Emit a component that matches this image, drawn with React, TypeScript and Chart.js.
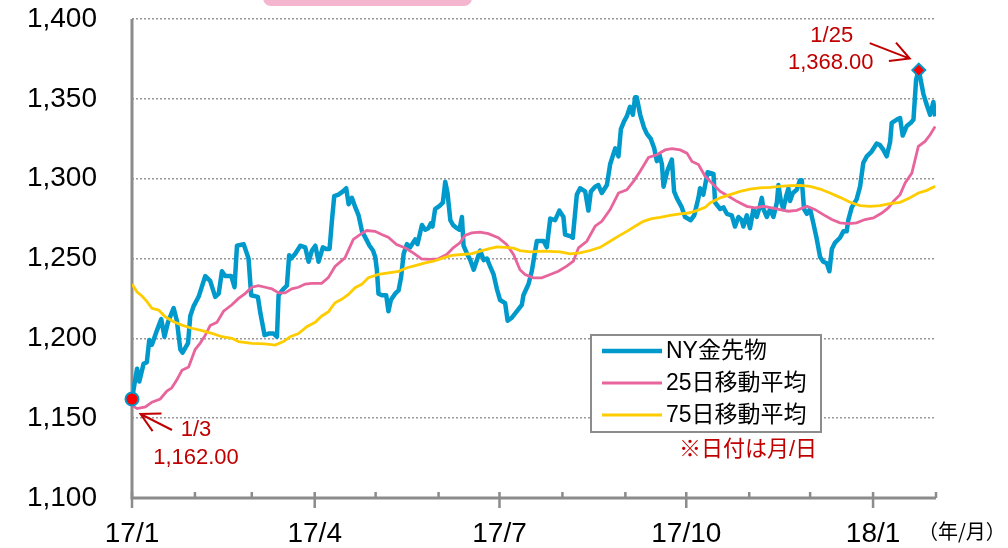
import { useEffect, useRef } from "react";
import { Chart, registerables } from "chart.js";
Chart.register(...registerables);

// x values are days counted from 2017-01-01 (day 0) to 2018-02-01 (day 396)
const X_MIN = 0;
const X_MAX = 396;
const MONTH_TICK_DAYS = [0, 31, 59, 90, 120, 151, 181, 212, 243, 273, 304, 334, 365, 396];
const MAJOR_TICK_DAYS = [0, 90, 181, 273, 365];
const MAJOR_TICK_LABELS = ["17/1", "17/4", "17/7", "17/10", "18/1"];
const Y_MIN = 1100;
const Y_MAX = 1400;
const Y_STEP = 50;

const goldDays = [
  0, 1.3, 2.5, 3.6, 5.7, 7.3, 8.5, 9.8, 12.3, 14.4, 16, 17.7, 20.5, 22.1, 23.8, 24.9, 27.6, 28.7, 30.3, 32.8,
  36.1, 38.5, 41, 42.7, 44.3, 45.9, 48.9, 50.5, 51.7, 55, 57.4, 58.7, 62, 63.2, 65.3, 67.3, 69.7, 71.4, 72.2, 74.6,
  76.3, 77.4, 78.4, 80.4, 82.9, 85.3, 87, 88.6, 90.3, 91.9, 94, 95.6, 97.3, 98.5, 99.6, 101.7, 103.9, 105.5, 106.7, 108.3,
  110, 111.6, 113.3, 115.4, 117, 118.7, 119.8, 120.6, 121.4, 123.1, 125.2, 126.3, 127.5, 129.6, 131.3, 132.5, 133.8, 135.4, 137, 139.5,
  140.6, 142.8, 144.4, 146, 147.2, 148, 149.3, 151.5, 153.1, 154.3, 155.4, 156.8, 158.1, 160, 161.3, 162.5, 163.3, 165, 166.6, 168.3,
  169.9, 171.5, 173.2, 174.8, 176.4, 178.1, 179.7, 181.3, 183.8, 185, 187.1, 189.6, 192, 192.8, 195.3, 196.9, 198.6, 199.4, 202.7, 204.3,
  206, 208.4, 210.5, 212.5, 213.3, 215.8, 217.1, 219.1, 220.7, 223.2, 224.8, 226, 228.1, 229.7, 231.4, 233.9, 235.5, 238, 239.6, 240.8,
  242.4, 243.7, 245.3, 246.7, 247.8, 248.6, 250.3, 252.2, 253.6, 255.5, 257.2, 258.5, 259.8, 261, 261.8, 263.7, 265.9, 267, 268.3, 270.8,
  272.4, 275.2, 276.9, 279, 279.8, 281.4, 283.5, 286.4, 287.2, 289.7, 291.3, 293, 295.4, 297, 298.7, 300.3, 301.1, 302.8, 304.4, 306.1,
  307.7, 309.3, 310.2, 311, 312.7, 314.3, 315.9, 317.6, 318.4, 319.6, 320.8, 322.2, 323.3, 324.1, 325.5, 327.4, 329, 329.9, 331, 332.4,
  334, 335.6, 337.3, 338.9, 340.5, 342.2, 343.5, 344.7, 346.3, 348.7, 350.4, 352, 352.8, 354.5, 356.9, 358.6, 360.2, 361.9, 364.3, 366.8,
  368.4, 370.1, 371.7, 373.4, 374.2, 376.7, 378.3, 379.6, 381.6, 383.6, 384.9, 386.2, 387.5, 388.6, 389.8, 391.5, 393.1, 394.7, 395.6,
];
const goldPrices = [
  1162, 1172, 1181, 1173, 1184, 1185, 1199, 1196, 1205, 1212, 1201, 1210, 1219, 1211, 1193, 1191, 1197, 1214, 1220, 1226,
  1239, 1236, 1226, 1228, 1242, 1239, 1239, 1232, 1258, 1259, 1250, 1227, 1226, 1216, 1202, 1203, 1203, 1201, 1227, 1231,
  1233, 1252, 1250, 1253, 1258, 1257, 1248, 1255, 1258, 1248, 1257, 1256, 1256, 1274, 1289, 1290, 1292, 1294, 1284, 1288,
  1282, 1277, 1267, 1262, 1258, 1255, 1251, 1243, 1228, 1227, 1227, 1217, 1224, 1228, 1230, 1238, 1253, 1259, 1257, 1262,
  1259, 1271, 1268, 1269, 1272, 1270, 1281, 1283, 1285, 1298, 1291, 1274, 1271, 1269, 1268, 1276, 1258, 1253, 1249, 1243,
  1249, 1255, 1249, 1250, 1245, 1240, 1231, 1224, 1222, 1211, 1213, 1217, 1221, 1227, 1234, 1242, 1255, 1261, 1261, 1257,
  1275, 1274, 1280, 1276, 1265, 1264, 1263, 1290, 1294, 1292, 1280, 1292, 1295, 1296, 1291, 1296, 1309, 1319, 1314, 1331,
  1336, 1339, 1345, 1340, 1351, 1351, 1340, 1332, 1328, 1325, 1319, 1311, 1315, 1309, 1295, 1305, 1312, 1292, 1288, 1282,
  1276, 1274, 1277, 1288, 1294, 1290, 1304, 1303, 1285, 1281, 1282, 1278, 1277, 1270, 1276, 1274, 1270, 1277, 1269, 1281,
  1276, 1283, 1288, 1281, 1276, 1281, 1276, 1285, 1296, 1286, 1281, 1289, 1294, 1286, 1291, 1293, 1299, 1299, 1281, 1278,
  1281, 1272, 1262, 1251, 1248, 1247, 1242, 1256, 1260, 1263, 1267, 1267, 1274, 1282, 1287, 1295, 1310, 1314, 1317, 1322,
  1321, 1318, 1314, 1323, 1335, 1337, 1338, 1327, 1333, 1335, 1337, 1362, 1368, 1361, 1353, 1346, 1340, 1348, 1339,
];

const ma25Days = [
  0, 2.5, 6.6, 9.8, 13.9, 17.2, 19.6, 22.1, 24.6, 27.9, 31.1, 33.6, 36.1, 38.5, 41.8, 45.1, 49.2, 52.5, 55.7, 59,
  62.3, 65.6, 68.9, 72.2, 75.4, 78.7, 82, 85.3, 88.5, 93.4, 96.7, 100, 104.9, 109, 112.3, 115.6, 119.7, 123, 126.2, 130.3,
  134.4, 138.5, 142.6, 146.7, 150.8, 155, 158.2, 161.5, 164, 167.3, 171.4, 175.5, 180.4, 184.5, 187.9, 191.1, 193.6, 197.7, 201.8, 206,
  210, 214.1, 217.4, 219.9, 224, 228.1, 231.4, 235.5, 239.6, 243.7, 247, 250.3, 254.4, 258.5, 262.6, 265.9, 270, 273.3, 275.8, 279,
  282.3, 285.6, 289.7, 293.8, 297.9, 302.8, 306.9, 311, 315.1, 319.2, 323.3, 327.4, 332.4, 336.5, 340.5, 344.7, 348.7, 352.8, 356.9, 361,
  365.2, 369.3, 372.5, 375, 378.3, 380.8, 384.1, 387.3, 390.6, 393.1, 395.6,
];
const ma25Values = [
  1158, 1156, 1157, 1160, 1162, 1167, 1169, 1174, 1180, 1182, 1193, 1197, 1202, 1208, 1210, 1217, 1221, 1225, 1228, 1232,
  1233, 1232, 1231, 1228.5, 1228.5, 1231, 1232, 1234, 1234.4, 1234.4, 1238, 1245, 1250.4, 1262, 1265, 1267.5, 1267, 1265, 1263.3, 1258.8,
  1256.7, 1253.5, 1249.8, 1249.4, 1249.8, 1252.5, 1256.7, 1259.8, 1264.4, 1266, 1266.5, 1265.6, 1263, 1258.8, 1252.5, 1243, 1240, 1237.9, 1237.9, 1240,
  1242, 1245.2, 1248.3, 1256.7, 1260.8, 1270.2, 1273.3, 1280.6, 1291, 1293, 1298.3, 1304.6, 1313.3, 1315, 1318, 1318.8, 1318, 1316, 1310.8, 1308.8,
  1301.5, 1297.3, 1292, 1289, 1285.8, 1282.7, 1281.7, 1282.7, 1281.7, 1280.6, 1279.6, 1280.2, 1282.7, 1280.6, 1277.5, 1274.4, 1272.3, 1271.9, 1272.3, 1274.4,
  1275.4, 1278.5, 1281.7, 1285.8, 1290, 1297.3, 1303.5, 1320.2, 1323.3, 1327.5, 1332.7,
];

const ma75Days = [
  0, 2.5, 4.9, 7.4, 9.8, 13.1, 16.4, 20.5, 24.6, 29.5, 34.5, 39.4, 44.3, 49.2, 52.5, 59, 65.6, 70.5, 74.6, 77.9,
  82, 86.1, 90.2, 93.5, 96.8, 100, 103.3, 106.6, 109.9, 113.1, 116.4, 121.4, 126.3, 131.3, 135.4, 139.5, 144.4, 148.5, 153.4, 157.5,
  162.5, 167.4, 171.5, 175.6, 179.7, 183.8, 187.9, 191.1, 196.1, 202.7, 210.9, 215.8, 220.7, 225.6, 230.6, 235.5, 239.6, 243.7, 247.8, 251.9,
  256, 260.1, 265, 270, 274.1, 278.2, 282.3, 284.7, 289.7, 294.6, 299.5, 304.4, 309.3, 314.3, 319.2, 324.1, 329, 334, 338.9, 343.8,
  348.7, 353.7, 358.6, 363.5, 368.4, 373.4, 378.3, 383.2, 387.3, 391.5, 395.6,
];
const ma75Values = [
  1234, 1229, 1226.5, 1223, 1218.8, 1217.7, 1213.5, 1210.4, 1208.3, 1206.3, 1204.8, 1203.1, 1201, 1200, 1198, 1196.9, 1196.5, 1195.8, 1198, 1201,
  1203, 1207.3, 1210, 1214, 1216.7, 1222.3, 1224.4, 1227.5, 1231.7, 1233.8, 1238, 1240, 1241, 1242, 1244.2, 1245.6, 1247.3, 1248.3, 1250.4, 1252,
  1252.5, 1253, 1254.6, 1256, 1257.3, 1257, 1256.5, 1255, 1254.2, 1254.6, 1254.2, 1252.9, 1253.5, 1255, 1257, 1260.8, 1264, 1267, 1270.2, 1273.3,
  1275, 1275.8, 1277, 1278, 1278.5, 1280, 1282, 1284.8, 1288, 1290, 1292, 1293.5, 1294.2, 1294.6, 1295.2, 1295.6, 1295.8, 1295.2, 1293.5, 1291,
  1288.3, 1285.2, 1283.1, 1282.7, 1283.1, 1284.4, 1285.2, 1288, 1291, 1292.7, 1295.2,
];

// highlighted points: start (1/3) and high (1/25)
const markerDays = [0, 387.5];
const markerValues = [1162, 1368];
const markerDateLabels = ["1/3", "1/25"];
const markerValueLabels = ["1,162.00", "1,368.00"];

const seriesNames = ["NY金先物", "25日移動平均", "75日移動平均"];
const noteText = "※日付は月/日";
const axisUnitText = "（年/月）";

const BLUE = "#0099cc";
const PINK = "#e8649c";
const YELLOW = "#ffcc00";
const DARK_RED = "#c00000";
const AXIS_GRAY = "#8c8c8c";
const FONT = "'Liberation Sans', Arial, 'Noto Sans CJK JP', sans-serif";
const CJK_FONT = "'Noto Sans CJK JP', sans-serif";

function drawArrow(ctx: CanvasRenderingContext2D, tx: number, ty: number, fx: number, fy: number) {
  const ang = Math.atan2(fy - ty, fx - tx);
  const len = 21;
  const half = (28 * Math.PI) / 180;
  ctx.beginPath();
  ctx.moveTo(fx, fy);
  ctx.lineTo(tx, ty);
  ctx.moveTo(tx + len * Math.cos(ang + half), ty + len * Math.sin(ang + half));
  ctx.lineTo(tx, ty);
  ctx.lineTo(tx + len * Math.cos(ang - half), ty + len * Math.sin(ang - half));
  ctx.stroke();
}

const decorPlugin = {
  id: "decor",
  beforeDraw(chart: any) {
    const ctx = chart.ctx as CanvasRenderingContext2D;
    ctx.save();
    ctx.fillStyle = "#f4b6cf";
    ctx.beginPath();
    (ctx as any).roundRect(263, -12, 209, 18, 8);
    ctx.fill();
    ctx.restore();
  },
  beforeDatasetsDraw(chart: any) {
    const ctx = chart.ctx as CanvasRenderingContext2D;
    const { left, right, top, bottom } = chart.chartArea;
    const xs = chart.scales.x;
    ctx.save();
    ctx.strokeStyle = AXIS_GRAY;
    ctx.lineWidth = 3;
    ctx.beginPath();
    ctx.moveTo(left, top);
    ctx.lineTo(left, bottom);
    ctx.moveTo(left - 1.5, bottom);
    ctx.lineTo(right, bottom);
    ctx.stroke();
    ctx.lineWidth = 2.5;
    ctx.beginPath();
    MONTH_TICK_DAYS.forEach((d) => {
      const px = xs.getPixelForValue(d);
      const major = MAJOR_TICK_DAYS.includes(d);
      ctx.moveTo(px, bottom - 6);
      ctx.lineTo(px, major ? bottom + 10 : bottom);
    });
    ctx.stroke();
    ctx.restore();
  },
  afterDraw(chart: any) {
    const ctx = chart.ctx as CanvasRenderingContext2D;
    const xs = chart.scales.x;
    const ys = chart.scales.y;
    ctx.save();

    // legend box
    ctx.fillStyle = "#ffffff";
    ctx.fillRect(591, 335, 230, 97);
    ctx.strokeStyle = AXIS_GRAY;
    ctx.lineWidth = 2;
    ctx.strokeRect(591, 335, 230, 97);
    const colors = [BLUE, PINK, YELLOW];
    const widths = [4.5, 3, 3];
    ctx.font = `23px ${FONT}`;
    ctx.textBaseline = "middle";
    ctx.textAlign = "left";
    seriesNames.forEach((name, i) => {
      const yy = 351 + i * 32;
      ctx.strokeStyle = colors[i];
      ctx.lineWidth = widths[i];
      ctx.beginPath();
      ctx.moveTo(602, yy);
      ctx.lineTo(662, yy);
      ctx.stroke();
      ctx.fillStyle = "#000";
      ctx.fillText(name, 666, yy + 1);
    });

    // note
    ctx.fillStyle = DARK_RED;
    ctx.font = `22px ${FONT}`;
    ctx.textAlign = "center";
    ctx.fillText(noteText, 748, 450);

    // axis unit
    ctx.fillStyle = "#000";
    ctx.font = `20px ${CJK_FONT}`;
    ctx.textAlign = "left";
    ctx.fillText(axisUnitText, 918, 531);

    // annotations
    ctx.textAlign = "center";
    ctx.font = `22px ${FONT}`;
    ctx.fillStyle = DARK_RED;
    ctx.strokeStyle = DARK_RED;
    ctx.lineWidth = 2;
    const p0x = xs.getPixelForValue(markerDays[0]);
    const p0y = ys.getPixelForValue(markerValues[0]);
    ctx.fillText(markerDateLabels[0], p0x + 64, p0y + 31);
    ctx.fillText(markerValueLabels[0], p0x + 64, p0y + 59);
    drawArrow(ctx, p0x + 8.5, p0y + 15, p0x + 40, p0y + 31);

    const p1x = xs.getPixelForValue(markerDays[1]);
    const p1y = ys.getPixelForValue(markerValues[1]);
    ctx.fillText(markerDateLabels[1], p1x - 87, p1y - 34);
    ctx.fillText(markerValueLabels[1], p1x - 88, p1y - 7);
    drawArrow(ctx, p1x - 9, p1y - 11.5, p1x - 49, p1y - 27);

    ctx.restore();
  },
};

export default function App() {
  const ref = useRef<HTMLCanvasElement>(null);
  useEffect(() => {
    document.body.style.margin = "0";
    const toPts = (xs: number[], ys: number[]) => xs.map((x, i) => ({ x, y: ys[i] }));
    const chart = new Chart(ref.current as HTMLCanvasElement, {
      type: "line",
      data: {
        datasets: [
          {
            label: "markers",
            data: toPts(markerDays, markerValues),
            showLine: false,
            pointStyle: ["circle", "rectRot"] as any,
            pointRadius: 6.5,
            pointBorderWidth: 2,
            pointBackgroundColor: "#ff0000",
            pointBorderColor: BLUE,
            clip: false as any,
            order: 0,
          } as any,
          {
            label: seriesNames[2],
            data: toPts(ma75Days, ma75Values),
            borderColor: YELLOW,
            borderWidth: 2.8,
            pointRadius: 0,
            tension: 0,
            order: 1,
          },
          {
            label: seriesNames[1],
            data: toPts(ma25Days, ma25Values),
            borderColor: PINK,
            borderWidth: 2.8,
            pointRadius: 0,
            tension: 0,
            order: 2,
          },
          {
            label: seriesNames[0],
            data: toPts(goldDays, goldPrices),
            borderColor: BLUE,
            borderWidth: 4.5,
            pointRadius: 0,
            tension: 0,
            borderJoinStyle: "round",
            order: 3,
          },
        ],
      },
      options: {
        responsive: false,
        animation: false,
        devicePixelRatio: 1,
        events: [],
        layout: { padding: { top: 19, right: 72, bottom: 0, left: 0 } },
        plugins: { legend: { display: false }, tooltip: { enabled: false } },
        scales: {
          x: {
            type: "linear",
            min: X_MIN,
            max: X_MAX,
            grid: { display: false },
            border: { display: false },
            afterBuildTicks: (s: any) => {
              s.ticks = MAJOR_TICK_DAYS.map((v) => ({ value: v }));
            },
            afterFit: (s: any) => {
              s.height = 50;
              s.paddingLeft = 0;
              s.paddingRight = 0;
            },
            ticks: {
              autoSkip: false,
              maxRotation: 0,
              color: "#000",
              padding: 11,
              font: { size: 28, family: FONT },
              callback: (v: any) => {
                const i = MAJOR_TICK_DAYS.indexOf(Number(v));
                return i >= 0 ? MAJOR_TICK_LABELS[i] : "";
              },
            },
          },
          y: {
            min: Y_MIN,
            max: Y_MAX,
            grid: { color: "#999", lineWidth: 1.5, drawTicks: false },
            border: { display: false, dash: [2, 2] },
            afterFit: (s: any) => {
              s.width = 132;
              s.paddingTop = 0;
              s.paddingBottom = 0;
            },
            ticks: {
              stepSize: Y_STEP,
              color: "#000",
              padding: 35,
              font: { size: 28, family: FONT },
              callback: (v: any) => Number(v).toLocaleString("en-US"),
            },
          },
        },
      },
      plugins: [decorPlugin],
    });
    return () => chart.destroy();
  }, []);
  return (
    <div style={{ width: 1008, height: 548 }}>
      <canvas ref={ref} width={1008} height={548} style={{ display: "block", width: 1008, height: 548 }} />
    </div>
  );
}
